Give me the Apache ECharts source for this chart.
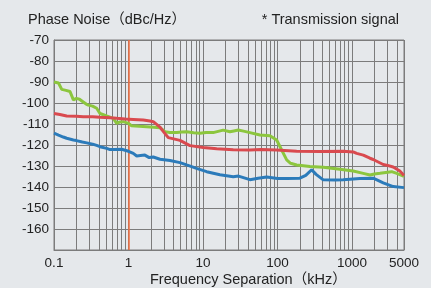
<!DOCTYPE html>
<html>
<head>
<meta charset="utf-8">
<script src="https://cdn.jsdelivr.net/npm/echarts@6/dist/echarts.min.js"></script>
<style>
    html, body { margin: 0; padding: 0; background: #e5e8eb; }
    #chart { width: 431px; height: 288px; }
</style>
</head>
<body>
<div id="chart"></div>
<script type="text/javascript">
    // 数据 [频率kHz, dBc/Hz]
    var greenData = [[0.1,-90],[0.115,-90.5],[0.127,-93.5],[0.145,-94],[0.164,-94.5],[0.182,-98.5],[0.2,-97.8],[0.22,-98.2],
        [0.247,-99.5],[0.27,-100.5],[0.289,-101],[0.33,-101.5],[0.374,-102.5],[0.414,-105],[0.46,-105.6],[0.51,-106.2],
        [0.625,-107.3],[0.695,-109.7],[0.77,-109],[0.85,-108.9],[1,-109.7],[1.1,-110.8],[1.4,-111.1],[1.75,-111.3],
        [2.2,-111.5],[2.65,-111.8],[3.09,-113.7],[3.6,-114],[4.44,-114.1],[5.2,-113.8],[6.04,-113.7],[7.5,-114.2],
        [9.1,-114.4],[11,-114],[13.7,-114.1],[16,-113.5],[18.7,-112.9],[23,-113.7],[26,-113.3],[29.8,-112.9],
        [35,-113.4],[42.7,-114.1],[58.2,-115.2],[79.3,-115.6],[97.5,-117.6],[114,-122.4],[133,-127.1],[150,-128.7],
        [181,-129.5],[273,-130.2],[412,-130.6],[690,-131.6],[1040,-132.4],[1420,-133.5],[1745,-134.3],[2000,-133.8],
        [2380,-133.5],[3410,-132.7],[4000,-133.5],[5000,-135]];
    var redData = [[0.1,-105],[0.12,-105.5],[0.148,-106.2],[0.2,-106.3],[0.247,-106.5],[0.33,-106.6],[0.414,-106.8],
        [0.565,-107],[0.695,-107.3],[0.9,-107.6],[1.16,-107.8],[1.58,-108.1],[1.94,-108.6],[2.15,-108.9],[2.65,-111.5],
        [3.0,-114],[3.42,-116.5],[4.91,-117.8],[6.69,-120.3],[10.1,-121.2],[15.3,-121.8],[25.5,-122.3],[42.7,-122.4],
        [60,-122.2],[97.5,-122.4],[181,-123],[372,-123.1],[764,-123],[1040,-123.3],[1157,-124],[1420,-124.8],
        [1745,-126.3],[1930,-126.9],[2630,-129.3],[2920,-129.6],[3580,-130.5],[4400,-132.4],[5000,-134.5]];
    var blueData = [[0.1,-114.4],[0.115,-115.3],[0.133,-116.2],[0.148,-116.8],[0.182,-117.6],[0.2,-117.9],[0.24,-118.6],
        [0.275,-119],[0.33,-119.6],[0.374,-120.2],[0.414,-120.8],[0.51,-121.6],[0.565,-122.2],[0.65,-122.1],[0.81,-122],
        [1,-123],[1.16,-124],[1.29,-125.2],[1.45,-125],[1.66,-124.8],[1.9,-126],[2.15,-125.7],[2.65,-126.8],[3.61,-127.4],
        [4.91,-128.4],[6.04,-129.5],[8.2,-131.1],[11.2,-132.7],[16.9,-134.2],[25.5,-135.1],[30,-134.8],[42.7,-136.5],
        [55,-135.8],[71.6,-135.2],[100,-135.9],[133,-135.9],[200,-135.8],[240,-134.5],[288,-131.8],[330,-134],
        [412,-136.6],[600,-136.7],[764,-136.5],[1280,-135.9],[1930,-135.8],[2630,-138],[3580,-139.8],[5000,-140.3]];

    // 坐标轴刻度
    var xLabels = [0.1, 1, 10, 100, 1000, 5000];
    var xGrid = [0.1,0.2,0.3,0.4,0.5,0.6,0.7,0.8,0.9,1,2,3,4,5,6,7,8,9,10,20,30,40,50,60,70,80,90,
        100,200,300,400,500,600,700,800,900,1000,2000,3000,4000,5000];
    var yMin = -170, yMax = -70, yStep = 10;
    var markFreq = 1;

    var font = 'Liberation Sans, Arial, "Noto Sans CJK JP", sans-serif';
    var gridColor = '#7c7c7c';

    var myChart = echarts.init(document.getElementById('chart'));
    var option = {
        backgroundColor: '#e5e8eb',
        animation: false,
        title: [
            {text: 'Phase Noise（dBc/Hz）', left: 23, top: 8,
                textStyle: {fontSize: 14.5, fontWeight: 'normal', color: '#222', fontFamily: font}},
            {text: '* Transmission signal', right: 27, top: 8,
                textStyle: {fontSize: 14.5, fontWeight: 'normal', color: '#222', fontFamily: font}}
        ],
        graphic: [
            {type: 'text', left: 150, top: 273,
                style: {text: 'Frequency Separation（kHz）', fontSize: 14.5, fill: '#222', fontFamily: font}}
        ],
        grid: {left: 54, right: 27, top: 40, bottom: 38, show: true, borderColor: gridColor, borderWidth: 1},
        xAxis: {
            type: 'log',
            logBase: 10,
            min: 0.1,
            max: 5000,
            axisLine: {show: true, lineStyle: {color: gridColor}},
            axisTick: {show: false, customValues: xGrid},
            axisLabel: {customValues: xLabels, margin: 7, fontSize: 13.5, color: '#222', fontFamily: font,
                formatter: function (v) { return String(v); }},
            splitLine: {show: true, lineStyle: {color: gridColor, width: 1}}
        },
        yAxis: {
            type: 'value',
            min: yMin,
            max: yMax,
            interval: yStep,
            axisLine: {show: true, lineStyle: {color: gridColor}},
            axisTick: {show: false},
            axisLabel: {margin: 5, fontSize: 13.5, color: '#222', fontFamily: font,
                formatter: function (v) { return v === yMin ? '' : String(v); }},
            splitLine: {show: true, lineStyle: {color: gridColor, width: 1}}
        },
        series: [
            {type: 'line', data: greenData, showSymbol: false, z: 3,
                lineStyle: {color: '#8cc63e', width: 3}},
            {type: 'line', data: redData, showSymbol: false, z: 4,
                lineStyle: {color: '#d94a4f', width: 3},
                markLine: {silent: true, symbol: 'none', label: {show: false}, z: 1,
                    lineStyle: {color: '#f26d3d', width: 1.5, type: 'solid'},
                    data: [{xAxis: markFreq}]}},
            {type: 'line', data: blueData, showSymbol: false, z: 5,
                lineStyle: {color: '#2b7bba', width: 3}}
        ]
    };
    myChart.setOption(option);
</script>
</body>
</html>
